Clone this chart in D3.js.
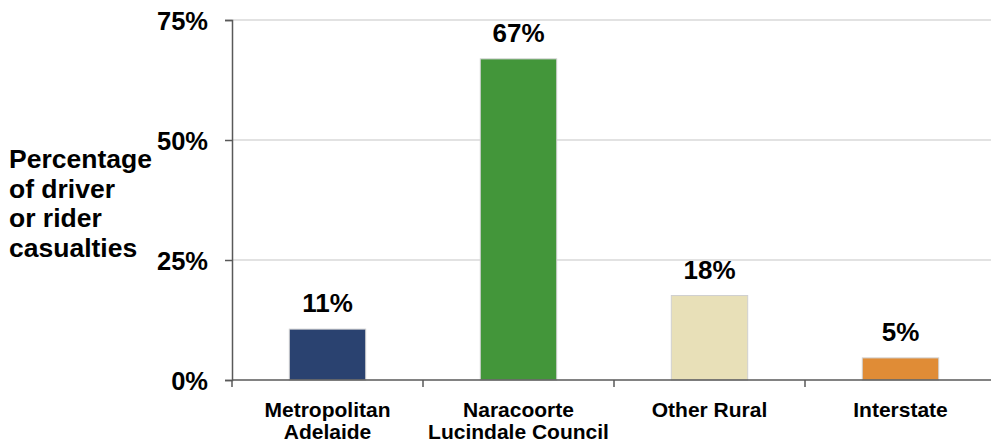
<!DOCTYPE html>
<html><head><meta charset="utf-8">
<script src="https://cdn.jsdelivr.net/npm/d3@7"></script>
<style>body{margin:0;background:#fff}svg{display:block;font-family:"Liberation Sans",Arial,sans-serif;font-weight:bold}</style>
</head><body>
<svg id="c" width="991" height="442"></svg>
<script>
const categories = [["Metropolitan","Adelaide"],["Naracoorte","Lucindale Council"],["Other Rural"],["Interstate"]];
const values = [10.6, 66.9, 17.6, 4.6];
const valueLabels = ["11%","67%","18%","5%"];
const colors = ["#2a4270","#43963a","#e8e0b8","#e08c36"];
const yTicks = [0,25,50,75];
const yTitle = ["Percentage","of driver","or rider","casualties"];

const svg = d3.select("#c");
const x0 = 232, x1 = 996, yTop = 20, yBot = 380;
const x = d3.scaleBand().domain(d3.range(categories.length)).range([x0,x1]).paddingInner(0.6).paddingOuter(0.3);
const y = d3.scaleLinear().domain([0,75]).range([yBot,yTop]);

// gridlines
svg.append("g").selectAll("line").data(yTicks.filter(d=>d>0)).join("line")
  .attr("x1",x0).attr("x2",991).attr("y1",d=>y(d)).attr("y2",d=>y(d))
  .attr("stroke","#d9d9d9").attr("stroke-width",1.5);

// y axis
const ya = svg.append("g").attr("transform",`translate(${x0},0)`)
  .call(d3.axisLeft(y).tickValues(yTicks).tickFormat(d=>d+"%").tickSize(7).tickPadding(17));
ya.select(".domain").attr("stroke","#595959").attr("stroke-width",1.5);
ya.selectAll(".tick line").attr("stroke","#595959").attr("stroke-width",1.5);
ya.selectAll("text").attr("font-size",25.5).attr("font-family","Liberation Sans, Arial, sans-serif").attr("font-weight","bold").attr("fill","#000").attr("dy","0.36em");

// bars
svg.append("g").selectAll("rect").data(values).join("rect")
  .attr("x",(d,i)=>x(i)).attr("width",x.bandwidth())
  .attr("y",d=>y(d)).attr("height",d=>yBot-y(d))
  .attr("fill",(d,i)=>colors[i]).attr("stroke","#d0d0d0").attr("stroke-width",1);

// value labels
svg.append("g").selectAll("text").data(values).join("text")
  .attr("x",(d,i)=>x(i)+x.bandwidth()/2).attr("y",d=>y(d)-17)
  .attr("text-anchor","middle").attr("font-size",26).text((d,i)=>valueLabels[i]);

// x axis
svg.append("line").attr("x1",x0).attr("x2",991).attr("y1",yBot).attr("y2",yBot).attr("stroke","#595959").attr("stroke-width",1.5);
const bnd = d3.range(categories.length+1).map(i=>x0+i*(x1-x0)/categories.length);
svg.append("g").selectAll("line").data(bnd.filter(b=>b<991)).join("line")
  .attr("x1",d=>d).attr("x2",d=>d).attr("y1",yBot).attr("y2",yBot+7).attr("stroke","#595959").attr("stroke-width",1.5);

// category labels
const cl = svg.append("g").selectAll("text").data(categories).join("text")
  .attr("text-anchor","middle").attr("font-size",21)
  .attr("transform",(d,i)=>`translate(${x(i)+x.bandwidth()/2},417)`);
cl.selectAll("tspan").data(d=>d).join("tspan").attr("x",0).attr("dy",(d,j)=>j?21.5:0).text(d=>d);

// y title
svg.append("text").attr("font-size",26.5).attr("transform","translate(9,168)")
  .selectAll("tspan").data(yTitle).join("tspan").attr("x",0).attr("dy",(d,j)=>j?29.5:0).text(d=>d);
</script>
</body></html>
